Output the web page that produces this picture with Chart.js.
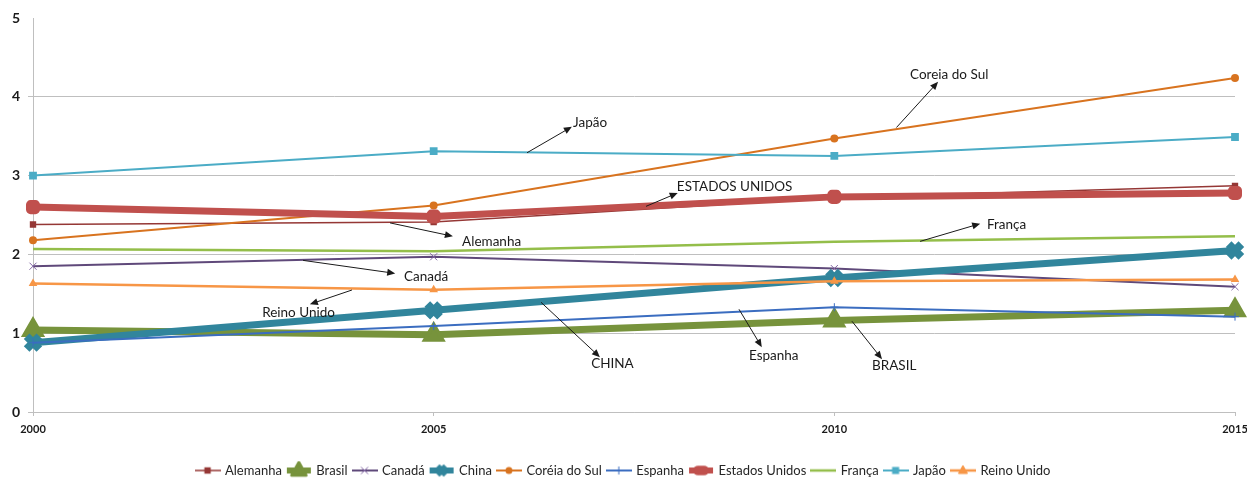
<!DOCTYPE html>
<html>
<head>
<meta charset="utf-8">
<script src="https://cdn.jsdelivr.net/npm/chart.js"></script>
<style>
  html, body { margin: 0; padding: 0; background: #fff; }
  #wrap { width: 1247px; height: 479px; position: relative; }
</style>
</head>
<body>
<div id="wrap"><canvas id="line-chart-paises"></canvas></div>
<script>
var anos = ["2000", "2005", "2010", "2015"];
var yTicks = [0, 1, 2, 3, 4, 5];

var alemanha      = [2.38, 2.41, 2.72, 2.87];
var brasil        = [1.04, 0.98, 1.16, 1.29];
var canada        = [1.85, 1.97, 1.82, 1.59];
var china         = [0.88, 1.29, 1.70, 2.05];
var coreiaDoSul   = [2.18, 2.62, 3.47, 4.24];
var espanha       = [0.88, 1.09, 1.33, 1.21];
var estadosUnidos = [2.60, 2.48, 2.73, 2.78];
var franca        = [2.07, 2.04, 2.16, 2.23];
var japao         = [3.00, 3.31, 3.25, 3.49];
var reinoUnido    = [1.63, 1.55, 1.66, 1.68];

// notas com seta: texto, inicio da seta, ponta da seta, canto do texto (em valores do grafico)
var notas = [
  { texto: "Coreia do Sul",  de: [2.155, 3.61], ate: [2.259, 4.19], em: [2.189, 4.28] },
  { texto: "Japão",          de: [1.233, 3.29], ate: [1.345, 3.62], em: [1.348, 3.67] },
  { texto: "ESTADOS UNIDOS", de: [1.530, 2.61], ate: [1.609, 2.78], em: [1.607, 2.86] },
  { texto: "Alemanha",       de: [0.891, 2.40], ate: [1.048, 2.23], em: [1.071, 2.165] },
  { texto: "França",         de: [2.214, 2.165], ate: [2.364, 2.39], em: [2.381, 2.38] },
  { texto: "Canadá",         de: [0.674, 1.924], ate: [0.904, 1.759], em: [0.926, 1.714] },
  { texto: "Reino Unido",    de: [0.796, 1.548], ate: [0.691, 1.367], em: [0.572, 1.266] },
  { texto: "CHINA",          de: [1.268, 1.392], ate: [1.415, 0.696], em: [1.393, 0.620] },
  { texto: "Espanha",        de: [1.762, 1.304], ate: [1.819, 0.823], em: [1.787, 0.709] },
  { texto: "BRASIL",         de: [2.044, 1.152], ate: [2.119, 0.671], em: [2.094, 0.582] }
];

function marcador(ctx, tipo, x, y, r, cor, borda) {
  ctx.save();
  ctx.fillStyle = cor;
  ctx.strokeStyle = cor;
  ctx.lineWidth = borda;
  ctx.lineJoin = 'round';
  ctx.beginPath();
  if (tipo === 'rect') {
    var s = r * Math.SQRT1_2;
    ctx.rect(x - s, y - s, 2 * s, 2 * s);
    ctx.fill();
  } else if (tipo === 'circle') {
    ctx.arc(x, y, r, 0, Math.PI * 2);
    ctx.fill();
  } else if (tipo === 'triangle') {
    ctx.moveTo(x, y - r);
    ctx.lineTo(x + r * 0.9, y + r * 0.6);
    ctx.lineTo(x - r * 0.9, y + r * 0.6);
    ctx.closePath();
    ctx.fill();
    ctx.stroke();
  } else if (tipo === 'crossRot') {
    var d = r * Math.SQRT1_2;
    ctx.moveTo(x - d, y - d); ctx.lineTo(x + d, y + d);
    ctx.moveTo(x + d, y - d); ctx.lineTo(x - d, y + d);
    ctx.stroke();
  } else if (tipo === 'cross') {
    ctx.moveTo(x, y - r); ctx.lineTo(x, y + r);
    ctx.moveTo(x - r, y); ctx.lineTo(x + r, y);
    ctx.stroke();
  } else if (tipo === 'rectRounded') {
    ctx.arc(x - 3, y, r * 0.8, Math.PI / 2, Math.PI * 1.5);
    ctx.arc(x + 3, y, r * 0.8, -Math.PI / 2, Math.PI / 2);
    ctx.closePath();
    ctx.fill();
  }
  ctx.restore();
}

function icone(cor, largura, tipo, r, corMarcador, borda) {
  var c = document.createElement('canvas');
  c.width = largura > 4 ? 32 : 26;
  c.height = 20;
  var ctx = c.getContext('2d');
  ctx.strokeStyle = cor;
  ctx.lineWidth = largura;
  ctx.beginPath();
  ctx.moveTo(largura > 4 ? 4 : 0, 10);
  ctx.lineTo(largura > 4 ? 28 : 26, 10);
  ctx.stroke();
  if (tipo) marcador(ctx, tipo, c.width / 2, 10, r, corMarcador || cor, borda || 1);
  return c;
}

var icones = [
  icone('#953735', 1.5, 'rect', 4.5),
  icone('#77933C', 6, 'triangle', 8, '#77933C', 3),
  icone('#5F497A', 2, 'crossRot', 5, '#8064A2', 1),
  icone('#31859C', 6, 'crossRot', 6, '#31859C', 6),
  icone('#D8731F', 2, 'circle', 3.5),
  icone('#3B6DC0', 2, 'cross', 4, '#3B6DC0', 1),
  icone('#C0504D', 6, 'rectRounded', 6),
  icone('#94BE4A', 2.5, null),
  icone('#4BACC6', 2, 'rect', 5),
  icone('#F79646', 2.5, 'triangle', 5)
];

// legenda com altura fixa, encostada na borda de baixo
var legendaBaixa = {
  id: 'legendaBaixa',
  beforeLayout: function (chart) {
    var lg = chart.legend;
    if (lg && !lg._baixa) {
      var fitOriginal = lg.fit;
      lg.fit = function () {
        fitOriginal.call(this);
        this.height = 21;
      };
      lg._baixa = true;
    }
  }
};

var notasPlugin = {
  id: 'notas',
  afterDatasetsDraw: function (chart) {
    var ctx = chart.ctx;
    var sx = chart.scales.x, sy = chart.scales.y;
    ctx.save();
    notas.forEach(function (n) {
      var x1 = sx.getPixelForValue(n.de[0]), y1 = sy.getPixelForValue(n.de[1]);
      var x2 = sx.getPixelForValue(n.ate[0]), y2 = sy.getPixelForValue(n.ate[1]);
      var ang = Math.atan2(y2 - y1, x2 - x1);
      ctx.strokeStyle = '#1a1a1a';
      ctx.fillStyle = '#1a1a1a';
      ctx.lineWidth = 1;
      ctx.beginPath();
      ctx.moveTo(x1, y1);
      ctx.lineTo(x2 - 6 * Math.cos(ang), y2 - 6 * Math.sin(ang));
      ctx.stroke();
      ctx.beginPath();
      ctx.moveTo(x2, y2);
      ctx.lineTo(x2 - 8 * Math.cos(ang) + 3.5 * Math.sin(ang), y2 - 8 * Math.sin(ang) - 3.5 * Math.cos(ang));
      ctx.lineTo(x2 - 8 * Math.cos(ang) - 3.5 * Math.sin(ang), y2 - 8 * Math.sin(ang) + 3.5 * Math.cos(ang));
      ctx.closePath();
      ctx.fill();
      ctx.font = '13.5px Lato';
      ctx.textAlign = 'left';
      ctx.textBaseline = 'middle';
      ctx.fillText(n.texto, sx.getPixelForValue(n.em[0]), sy.getPixelForValue(n.em[1]));
    });
    ctx.restore();
  }
};

new Chart(document.getElementById("line-chart-paises"), {
  type: 'line',
  data: {
    labels: anos,
    datasets: [
      {
        label: "Alemanha", data: alemanha, order: 10,
        borderColor: "#953735", backgroundColor: "#953735", borderWidth: 1.5,
        pointStyle: 'rect', pointRadius: 4.5, pointBorderWidth: 0
      },
      {
        label: "Brasil", data: brasil, order: 9,
        borderColor: "#77933C", backgroundColor: "#77933C", borderWidth: 7,
        pointStyle: 'triangle', pointRadius: 10, pointBorderWidth: 4
      },
      {
        label: "Canadá", data: canada, order: 8,
        borderColor: "#5F497A", backgroundColor: "#8064A2", borderWidth: 2,
        pointStyle: 'crossRot', pointRadius: 5, pointBorderWidth: 1, pointBorderColor: "#8064A2"
      },
      {
        label: "China", data: china, order: 7,
        borderColor: "#31859C", backgroundColor: "#31859C", borderWidth: 7,
        pointStyle: 'crossRot', pointRadius: 9, pointBorderWidth: 8
      },
      {
        label: "Coréia do Sul", data: coreiaDoSul, order: 6,
        borderColor: "#D8731F", backgroundColor: "#D8731F", borderWidth: 2,
        pointStyle: 'circle', pointRadius: 4, pointBorderWidth: 0
      },
      {
        label: "Espanha", data: espanha, order: 5,
        borderColor: "#3B6DC0", backgroundColor: "#3B6DC0", borderWidth: 2,
        pointStyle: 'cross', pointRadius: 4, pointBorderWidth: 1
      },
      {
        label: "Estados Unidos", data: estadosUnidos, order: 4,
        borderColor: "#C0504D", backgroundColor: "#C0504D", borderWidth: 7,
        pointStyle: 'rectRounded', pointRadius: 7, pointBorderWidth: 2
      },
      {
        label: "França", data: franca, order: 3,
        borderColor: "#94BE4A", backgroundColor: "#94BE4A", borderWidth: 2.5,
        pointRadius: 0
      },
      {
        label: "Japão", data: japao, order: 2,
        borderColor: "#4BACC6", backgroundColor: "#4BACC6", borderWidth: 2,
        pointStyle: 'rect', pointRadius: 5.5, pointBorderWidth: 0
      },
      {
        label: "Reino Unido", data: reinoUnido, order: 1,
        borderColor: "#F79646", backgroundColor: "#F79646", borderWidth: 2.5,
        pointStyle: 'triangle', pointRadius: 5, pointBorderWidth: 0
      }
    ]
  },
  options: {
    responsive: true,
    maintainAspectRatio: false,
    animation: false,
    elements: { line: { tension: 0 } },
    layout: { autoPadding: false, padding: { top: 18, right: 0, left: 0, bottom: 0 } },
    scales: {
      x: {
        offset: false,
        grid: { display: true, drawOnChartArea: false, tickLength: 4, color: '#BFBFBF' },
        border: { color: '#BFBFBF' },
        ticks: {
          padding: 7, maxRotation: 0, autoSkip: false,
          color: '#1a1a1a', font: { family: 'Lato', size: 11, weight: 'bold' }
        },
        afterFit: function (scale) {
          scale.height = 46;
          scale.paddingRight = 12;
        }
      },
      y: {
        min: 0, max: 5,
        afterBuildTicks: function (axis) {
          axis.ticks = yTicks.map(function (v) { return { value: v }; });
        },
        grid: {
          tickLength: 5,
          color: function (c) { return c.tick && c.tick.value === 5 ? 'rgba(0,0,0,0)' : '#BFBFBF'; }
        },
        border: { color: '#BFBFBF' },
        ticks: {
          padding: 8,
          color: '#1a1a1a', font: { family: 'Lato', size: 14, weight: 'bold' }
        },
        afterFit: function (scale) { scale.width = 33; }
      }
    },
    plugins: {
      title: { display: false },
      tooltip: { enabled: false },
      legend: {
        position: 'bottom',
        labels: {
          usePointStyle: true,
          pointStyleWidth: 22,
          boxHeight: 13,
          padding: 6,
          color: '#262626',
          font: { family: 'Lato', size: 13 },
          sort: function (a, b) { return a.datasetIndex - b.datasetIndex; },
          generateLabels: function (chart) {
            var itens = Chart.defaults.plugins.legend.labels.generateLabels(chart);
            itens.forEach(function (it) { it.pointStyle = icones[it.datasetIndex]; });
            return itens;
          }
        }
      }
    }
  },
  plugins: [notasPlugin, legendaBaixa]
});
</script>
</body>
</html>
